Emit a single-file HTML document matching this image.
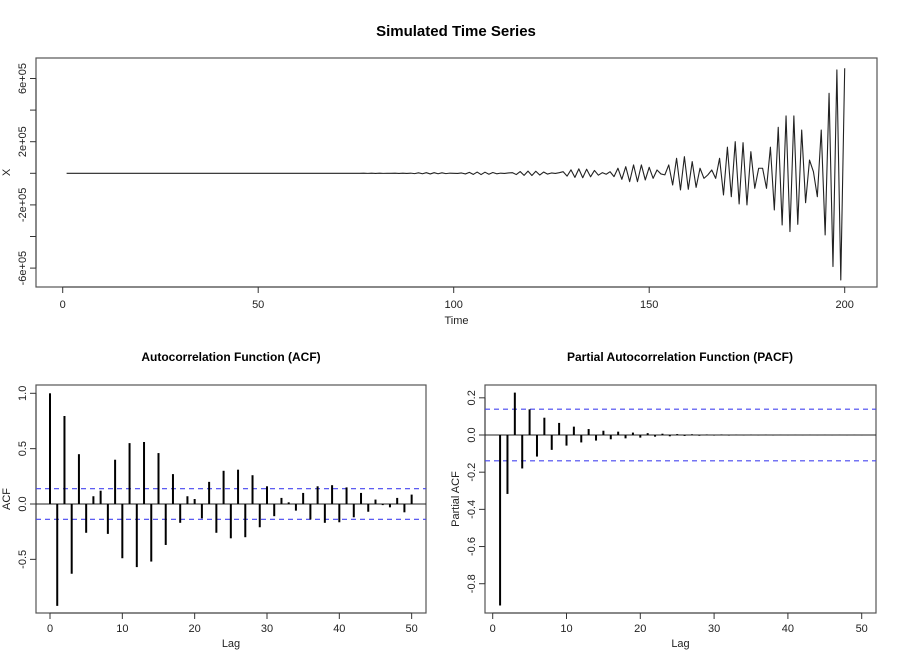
<!DOCTYPE html>
<html><head><meta charset="utf-8"><style>
html,body{margin:0;padding:0;background:#fff}
svg{display:block;font-family:"Liberation Sans",Arial,sans-serif}
</style></head><body>
<svg id="chart" width="900" height="650" viewBox="0 0 900 650" xmlns="http://www.w3.org/2000/svg">
<rect width="900" height="650" fill="#fff"/>
<text x="456" y="36" text-anchor="middle" font-size="15" font-weight="bold">Simulated Time Series</text>
<text x="231" y="361" text-anchor="middle" font-size="12" font-weight="bold">Autocorrelation Function (ACF)</text>
<text x="680" y="361" text-anchor="middle" font-size="12" font-weight="bold">Partial Autocorrelation Function (PACF)</text>
<g id="ts"></g>
<g id="acf"></g>
<g id="pacf"></g>
</svg>
<script>
// Time series values (in thousands), t = 1..200
const tsZeros = new Array(74).fill(0);
const tsTail = [
0.3,-0.4,0.5,-0.5,0.6,-0.6,0.6,-0.5,0.4,-0.3,0.5,-0.7,0.9,-1,
1,-2,3,-3,4,-4,4,-3,3,-2,1,0,-1,
2,-4,6,-7,8,-8,7,-6,5,-3,1,-1,2,
4,-8,11,-13,14,-14,13,-11,8,-5,2,-1,4,
10,-18,22,-26,28,-28,26,-22,18,-12,
4,-6,10,-21,32,-38,42,-53,53,-53,53,-42,38,
-32,21,-4,-10,53,-74,95,-105,105,-101,74,-89,32,-32,-10,
21,-32,95,-137,165,-148,200,-194,194,-200,137,-95,32,32,-95,
165,-232,291,-327,363,-369,363,-323,274,-186,
84,10,-148,274,-390,506,-590,654,-675,665];
const tsValues = tsZeros.concat(tsTail);
const tsXTicks = [0,50,100,150,200];
const tsYTicks = [-600000,-400000,-200000,0,200000,400000,600000];
const tsYLabels = ["-6e+05","","-2e+05","","2e+05","","6e+05"];

const acfValues = [1.0,-0.92,0.795,-0.63,0.45,-0.26,0.07,0.12,-0.27,0.40,-0.49,0.55,-0.57,0.56,-0.52,0.46,-0.37,0.27,-0.17,0.07,0.045,-0.13,0.20,-0.26,0.30,-0.31,0.31,-0.30,0.26,-0.21,0.16,-0.11,0.055,0.015,-0.06,0.10,-0.14,0.16,-0.17,0.17,-0.165,0.15,-0.12,0.10,-0.07,0.04,-0.01,-0.03,0.055,-0.075,0.085];
const acfYTicks = [-0.5,0,0.5,1.0];
const acfYLabels = ["-0.5","0.0","0.5","1.0"];
const pacfValues = [-0.917,-0.317,0.228,-0.18,0.138,-0.116,0.093,-0.08,0.065,-0.057,0.045,-0.04,0.032,-0.03,0.023,-0.023,0.018,-0.018,0.013,-0.014,0.01,-0.009,0.007,-0.007,0.005,-0.005,0.004,-0.004,0.003,-0.003,0.003,-0.003,0.002,-0.002,0.002,-0.002,0.002,-0.002,0.001,-0.001,0.001,-0.001,0.001,-0.001,0.001,-0.001,0.001,-0.001,0.001,-0.001];
const pacfYTicks = [-0.8,-0.6,-0.4,-0.2,0,0.2];
const pacfYLabels = ["-0.8","-0.6","-0.4","-0.2","0.0","0.2"];
const lagTicks = [0,10,20,30,40,50];
const ciBound = 0.1386;

const NS = "http://www.w3.org/2000/svg";
function mk(parent, tag, attrs, text){
  const e = document.createElementNS(NS, tag);
  for (const k in attrs) e.setAttribute(k, attrs[k]);
  if (text !== undefined) e.textContent = text;
  parent.appendChild(e);
  return e;
}

function panel(g, box, xs, ys, xTicks, xLabels, yTicks, yLabels, xTitle, yTitle, prefix, labOff, titleOff){
  const r = mk(g,'rect',{x:box.l,y:box.t,width:box.r-box.l,height:box.b-box.t,fill:'none',stroke:'#555','stroke-width':1.2});
  
  
  const xa = mk(g,'line',{x1:xs(xTicks[0]),x2:xs(xTicks[xTicks.length-1]),y1:box.b,y2:box.b,stroke:'#333'});
  
  
  xTicks.forEach((v,i)=>{
    const x = xs(v);
    const tl = mk(g,'line',{x1:x,x2:x,y1:box.b,y2:box.b+6,stroke:'#333'});
    
    
    const tx = mk(g,'text',{x:x,y:box.b+labOff,'text-anchor':'middle','font-size':11,fill:'#222'}, xLabels[i]);
    
    
  });
  const ya = mk(g,'line',{x1:box.l,x2:box.l,y1:ys(yTicks[0]),y2:ys(yTicks[yTicks.length-1]),stroke:'#333'});
  
  
  yTicks.forEach((v,i)=>{
    const y = ys(v);
    const tl = mk(g,'line',{x1:box.l-6,x2:box.l,y1:y,y2:y,stroke:'#333'});
    
    
    if (yLabels[i]) {
      const tx = mk(g,'text',{x:box.l-10,y:y,'text-anchor':'middle','font-size':11,fill:'#222',transform:'rotate(-90 '+(box.l-10)+' '+y+')'}, yLabels[i]);
      
      
    }
  });
  const xt = mk(g,'text',{x:(box.l+box.r)/2,y:box.b+titleOff,'text-anchor':'middle','font-size':11,fill:'#222'}, xTitle);
  
  
  const yx = box.l-26, yy=(box.t+box.b)/2;
  const yt = mk(g,'text',{x:yx,y:yy,'text-anchor':'middle','font-size':11,fill:'#222',transform:'rotate(-90 '+yx+' '+yy+')'}, yTitle);
  
  
}

// Time series panel
(function(){
  const g = document.getElementById('ts');
  const box = {l:36,r:877,t:58,b:287};
  const xs = t => 62.7 + t*3.91;
  const ys = v => 173.3 - v*(31.6/200000);
  panel(g, box, xs, ys, tsXTicks, tsXTicks.map(String), tsYTicks, tsYLabels, 'Time', 'X', 'ts', 21, 37);
  const pts = tsValues.map((v,i)=> xs(i+1).toFixed(2)+','+ys(v*1000).toFixed(2)).join(' ');
  const pl = mk(g,'polyline',{points:pts,fill:'none',stroke:'#222','stroke-width':1.1,'stroke-linejoin':'round'});
  
  
})();

function corrPanel(id, box, lag0, lagStep, zeroY, unit, values, startLag, yTicks, yLabels, yTitle, prefix){
  const g = document.getElementById(id);
  const xs = l => lag0 + l*lagStep;
  const ys = v => zeroY - v*unit;
  panel(g, box, xs, ys, lagTicks, lagTicks.map(String), yTicks, yLabels, 'Lag', yTitle, prefix, 19, 34);
  const z = mk(g,'line',{x1:box.l,x2:box.r,y1:ys(0),y2:ys(0),stroke:'#222','stroke-width':1.1});
  
  
  [ciBound,-ciBound].forEach(c=>{
    const l = mk(g,'line',{x1:box.l,x2:box.r,y1:ys(c),y2:ys(c),stroke:'#4646f0','stroke-width':1.1,'stroke-dasharray':'5,4'});
    
    
  });
  values.forEach((v,i)=>{
    const x = xs(i+startLag);
    const b = mk(g,'line',{x1:x,x2:x,y1:ys(0),y2:ys(v),stroke:'#000','stroke-width':2});
    
    
  });
}
corrPanel('acf',{l:36,r:426,t:385,b:613},50,7.233,504,110.7,acfValues,0,acfYTicks,acfYLabels,'ACF','acf');
corrPanel('pacf',{l:485,r:876,t:385,b:613},492.7,7.38,435,185.9,pacfValues,1,pacfYTicks,pacfYLabels,'Partial ACF','pacf');
</script>
</body></html>
